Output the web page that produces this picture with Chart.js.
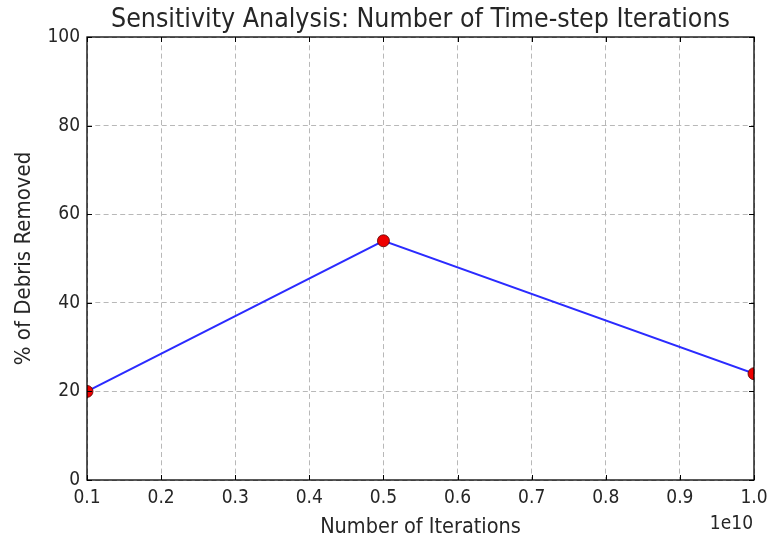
<!DOCTYPE html>
<html>
<head>
<meta charset="utf-8">
<script src="https://cdn.jsdelivr.net/npm/chart.js@4"></script>
<style>
  html, body { margin: 0; padding: 0; background: #fff; }
  #wrap { width: 769px; height: 543px; }
</style>
</head>
<body>
<div id="wrap"><canvas id="chart" width="769" height="543"></canvas></div>
<script>
// --- Data ---
const iterations = [0.1e10, 0.5e10, 1.0e10];
const debrisRemoved = [20, 54, 24];
const xTicks = [0.1, 0.2, 0.3, 0.4, 0.5, 0.6, 0.7, 0.8, 0.9, 1.0];
const yTicks = [0, 20, 40, 60, 80, 100];

const titleText = 'Sensitivity Analysis: Number of Time-step Iterations';
const xLabel = 'Number of Iterations';
const yLabel = '% of Debris Removed';
const FONT = "'DejaVu Sans Condensed', 'DejaVu Sans', sans-serif";
const TEXT = '#262626';

// frame, inward ticks, title, axis labels and the offset label (matplotlib classic look)
const framePlugin = {
    id: 'frame',
    afterDraw(chart) {
        const { ctx, chartArea: a, scales } = chart;
        ctx.save();
        ctx.strokeStyle = '#000';
        ctx.lineWidth = 1;
        ctx.beginPath();
        const tl = 5;
        for (const v of xTicks) {
            const px = Math.round(scales.x.getPixelForValue(v * 1e10)) + 0.5;
            ctx.moveTo(px, a.bottom); ctx.lineTo(px, a.bottom - tl);
            ctx.moveTo(px, a.top); ctx.lineTo(px, a.top + tl);
        }
        for (const v of yTicks) {
            const py = Math.round(scales.y.getPixelForValue(v)) + 0.5;
            ctx.moveTo(a.left, py); ctx.lineTo(a.left + tl, py);
            ctx.moveTo(a.right, py); ctx.lineTo(a.right - tl, py);
        }
        ctx.stroke();
        ctx.lineWidth = 1.3;
        ctx.strokeRect(a.left, a.top, a.right - a.left, a.bottom - a.top);

        ctx.fillStyle = TEXT;
        ctx.textBaseline = 'alphabetic';
        ctx.textAlign = 'center';
        ctx.font = `26.5px ${FONT}`;
        ctx.fillText(titleText, (a.left + a.right) / 2, 27);

        ctx.font = `21.5px ${FONT}`;
        ctx.fillText(xLabel, (a.left + a.right) / 2, 533);

        ctx.save();
        ctx.font = `22px ${FONT}`;
        ctx.translate(30, (a.top + a.bottom) / 2);
        ctx.rotate(-Math.PI / 2);
        ctx.fillText(yLabel, 0, 0);
        ctx.restore();

        ctx.font = `19px ${FONT}`;
        ctx.textAlign = 'right';
        ctx.fillText('1e10', a.right - 1, 529);
        ctx.restore();
    }
};

new Chart(document.getElementById('chart'), {
    type: 'line',
    data: {
        datasets: [{
            data: iterations.map((x, i) => ({ x, y: debrisRemoved[i] })),
            borderColor: '#2b2bff',
            borderWidth: 2,
            pointRadius: 6,
            pointBackgroundColor: '#ee0000',
            pointBorderColor: '#550000',
            pointBorderWidth: 0.8,
            tension: 0,
            clip: 0
        }]
    },
    options: {
        responsive: false,
        animation: false,
        layout: { padding: { top: 37, right: 15, left: 0, bottom: 0 } },
        plugins: { legend: { display: false }, tooltip: { enabled: false } },
        scales: {
            x: {
                type: 'linear',
                min: 0.1e10,
                max: 1.0e10,
                afterBuildTicks: (axis) => { axis.ticks = xTicks.map(v => ({ value: v * 1e10 })); },
                afterFit: (axis) => { axis.height = 63; axis.paddingRight = 0; axis.paddingLeft = 0; },
                ticks: {
                    color: TEXT,
                    font: { family: FONT, size: 19 },
                    padding: 7,
                    maxRotation: 0,
                    callback: (v) => (v / 1e10).toFixed(1)
                },
                grid: { color: '#b8b8b8', drawTicks: false, lineWidth: 1 },
                border: { display: false, dash: [5, 3.3] }
            },
            y: {
                min: 0,
                max: 100,
                afterBuildTicks: (axis) => { axis.ticks = yTicks.map(v => ({ value: v })); },
                afterFit: (axis) => { axis.width = 87; axis.paddingTop = 0; axis.paddingBottom = 0; },
                ticks: {
                    color: TEXT,
                    font: { family: FONT, size: 19 },
                    padding: 7
                },
                grid: { color: '#b8b8b8', drawTicks: false, lineWidth: 1 },
                border: { display: false, dash: [5, 3.3] }
            }
        }
    },
    plugins: [framePlugin]
});
</script>
</body>
</html>
